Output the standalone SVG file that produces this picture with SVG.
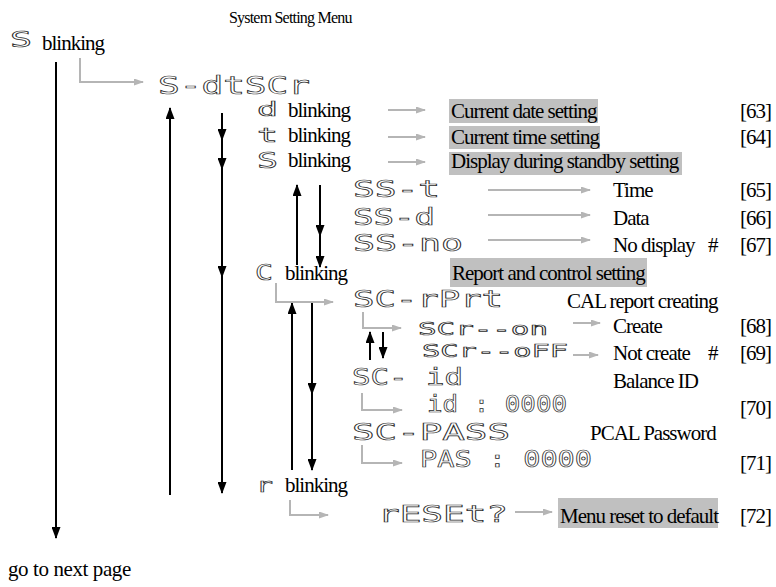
<svg xmlns="http://www.w3.org/2000/svg" width="776" height="587" viewBox="0 0 776 587">
<style>
.seg{font-family:"DejaVu Sans Mono",monospace;fill:#fff;stroke:#2a2a2a;stroke-width:0.7}
.t{font-family:"Liberation Serif",serif;font-size:21px;letter-spacing:-1px;fill:#000}
.box{fill:#c0c0c0}
.blk{stroke:#000;stroke-width:2;fill:none}
.gry{stroke:#b5b5b5;stroke-width:2;fill:none}
</style>
<defs>
<marker id="ab" markerUnits="userSpaceOnUse" markerWidth="12" markerHeight="9" refX="11" refY="4.5" orient="auto"><path d="M0,0 L12,4.5 L0,9 z" fill="#000"/></marker>
<marker id="ag" markerUnits="userSpaceOnUse" markerWidth="10" markerHeight="7" refX="9" refY="3.5" orient="auto"><path d="M0,0 L10,3.5 L0,7 z" fill="#b5b5b5"/></marker>
</defs>
<rect width="776" height="587" fill="#fff"/>
<text class="t" x="229" y="23" style="font-size:16px;letter-spacing:-0.8px">System Setting Menu</text>

<g id="connectors">
<path class="blk" d="M56,62 V538" marker-end="url(#ab)"/>
<path class="blk" d="M170,495 V108" marker-end="url(#ab)"/>
<path class="blk" d="M222,113 V140" marker-end="url(#ab)"/>
<path class="blk" d="M222,140 V169" marker-end="url(#ab)"/>
<path class="blk" d="M222,169 V277" marker-end="url(#ab)"/>
<path class="blk" d="M222,277 V493" marker-end="url(#ab)"/>
<path class="blk" d="M297,265 V185" marker-end="url(#ab)"/>
<path class="blk" d="M320,185 V236" marker-end="url(#ab)"/>
<path class="blk" d="M320,236 V267" marker-end="url(#ab)"/>
<path class="blk" d="M292,470 V303" marker-end="url(#ab)"/>
<path class="blk" d="M312,302 V394" marker-end="url(#ab)"/>
<path class="blk" d="M312,394 V470" marker-end="url(#ab)"/>
<path class="blk" d="M370,360 V332" marker-end="url(#ab)"/>
<path class="blk" d="M383,332 V358" marker-end="url(#ab)"/>

<path class="gry" d="M80,58 V82 H143" marker-end="url(#ag)"/>
<path class="gry" d="M388,110 H425" marker-end="url(#ag)"/>
<path class="gry" d="M388,137 H425" marker-end="url(#ag)"/>
<path class="gry" d="M388,162 H425" marker-end="url(#ag)"/>
<path class="gry" d="M488,190 H590" marker-end="url(#ag)"/>
<path class="gry" d="M488,215 H590" marker-end="url(#ag)"/>
<path class="gry" d="M488,240 H590" marker-end="url(#ag)"/>
<path class="gry" d="M276,283 V302 H333" marker-end="url(#ag)"/>
<path class="gry" d="M363,312 V328 H401" marker-end="url(#ag)"/>
<path class="gry" d="M573,323 H600" marker-end="url(#ag)"/>
<path class="gry" d="M573,355 H598" marker-end="url(#ag)"/>
<path class="gry" d="M362,393 V410 H402" marker-end="url(#ag)"/>
<path class="gry" d="M362,445 V463 H402" marker-end="url(#ag)"/>
<path class="gry" d="M290,500 V515 H328" marker-end="url(#ag)"/>
<path class="gry" d="M515,512 H552" marker-end="url(#ag)"/>
</g>

<g id="n-s-blink"><text class="seg" x="10" y="47" font-size="21" textLength="22" lengthAdjust="spacingAndGlyphs">S</text><text class="t" x="42" y="50">blinking</text></g>
<g id="n-sdtscr"><text class="seg" x="158" y="94" font-size="24" textLength="152" lengthAdjust="spacingAndGlyphs">S-dtSCr</text></g>
<g id="n-d"><text class="seg" x="257" y="116" font-size="20" textLength="21" lengthAdjust="spacingAndGlyphs">d</text><text class="t" x="288" y="117">blinking</text></g>
<g id="n-t"><text class="seg" x="257" y="142" font-size="20" textLength="21" lengthAdjust="spacingAndGlyphs">t</text><text class="t" x="288" y="142">blinking</text></g>
<g id="n-s"><text class="seg" x="257" y="168" font-size="22" textLength="21" lengthAdjust="spacingAndGlyphs">S</text><text class="t" x="288" y="167">blinking</text></g>

<g id="n-date"><rect class="box" x="449" y="99" width="149" height="24"/><text class="t" x="451" y="118">Current date setting</text><text class="t" x="740" y="118">[63]</text></g>
<g id="n-time"><rect class="box" x="449" y="126" width="151" height="23"/><text class="t" x="451" y="144">Current time setting</text><text class="t" x="740" y="144">[64]</text></g>
<g id="n-disp"><rect class="box" x="449" y="152" width="233" height="23"/><text class="t" x="451" y="168">Display during standby setting</text></g>

<g id="n-sst"><text class="seg" x="353" y="197" font-size="23" textLength="87" lengthAdjust="spacingAndGlyphs">SS-t</text><text class="t" x="613" y="197">Time</text><text class="t" x="740" y="197">[65]</text></g>
<g id="n-ssd"><text class="seg" x="353" y="225" font-size="23" textLength="82" lengthAdjust="spacingAndGlyphs">SS-d</text><text class="t" x="613" y="225">Data</text><text class="t" x="740" y="225">[66]</text></g>
<g id="n-ssno"><text class="seg" x="353" y="251" font-size="23" textLength="110" lengthAdjust="spacingAndGlyphs">SS-no</text><text class="t" x="613" y="252">No display</text><text class="t" x="708" y="252">#</text><text class="t" x="740" y="252">[67]</text></g>

<g id="n-c"><text class="seg" x="255" y="280" font-size="22" textLength="18" lengthAdjust="spacingAndGlyphs">C</text><text class="t" x="285" y="280">blinking</text></g>
<g id="n-report"><rect class="box" x="450" y="258" width="197" height="29"/><text class="t" x="452" y="280">Report and control setting</text></g>
<g id="n-scrprt"><text class="seg" x="353" y="307" font-size="23" textLength="150" lengthAdjust="spacingAndGlyphs">SC-rPrt</text><text class="t" x="567" y="308">CAL report creating</text></g>
<g id="n-scron"><text class="seg" x="418" y="335" font-size="18" textLength="130" lengthAdjust="spacingAndGlyphs">SCr--on</text><text class="t" x="613" y="333">Create</text><text class="t" x="740" y="333">[68]</text></g>
<g id="n-scroff"><text class="seg" x="422" y="357" font-size="18" textLength="146" lengthAdjust="spacingAndGlyphs">SCr--oFF</text><text class="t" x="613" y="360">Not create</text><text class="t" x="708" y="360">#</text><text class="t" x="740" y="360">[69]</text></g>
<g id="n-scid"><text class="seg" x="352" y="385" font-size="23" textLength="111" lengthAdjust="spacingAndGlyphs">SC- id</text><text class="t" x="613" y="388">Balance ID</text></g>
<g id="n-id"><text class="seg" x="427" y="412" font-size="23" textLength="140" lengthAdjust="spacingAndGlyphs">id : 0000</text><text class="t" x="740" y="415">[70]</text></g>
<g id="n-scpass"><text class="seg" x="352" y="440" font-size="23" textLength="158" lengthAdjust="spacingAndGlyphs">SC-PASS</text><text class="t" x="590" y="440">PCAL Password</text></g>
<g id="n-pas"><text class="seg" x="420" y="467" font-size="23" textLength="172" lengthAdjust="spacingAndGlyphs">PAS : 0000</text><text class="t" x="740" y="470">[71]</text></g>

<g id="n-r"><text class="seg" x="256" y="492" font-size="20" textLength="17" lengthAdjust="spacingAndGlyphs">r</text><text class="t" x="285" y="492">blinking</text></g>
<g id="n-reset"><text class="seg" x="378" y="522" font-size="23" textLength="130" lengthAdjust="spacingAndGlyphs">rESEt?</text><rect class="box" x="558" y="498" width="160" height="30"/><text class="t" x="560" y="523">Menu reset to default</text><text class="t" x="740" y="523">[72]</text></g>

<g id="n-next"><text class="t" x="8" y="576" style="letter-spacing:-0.4px">go to next page</text></g>
</svg>
